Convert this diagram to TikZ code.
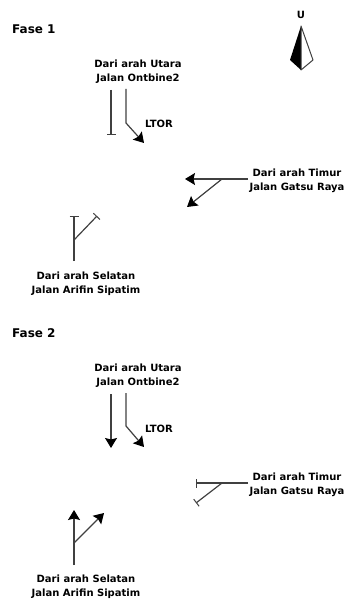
\documentclass[tikz,border=0pt]{standalone}
\usepackage{fontspec}
\setmainfont{DejaVu Sans}
\usetikzlibrary{arrows.meta}

\begin{document}
\begin{tikzpicture}[x=1pt, y=-1pt,    % same units as the image
    faselabel/.style={font=\bfseries\fontsize{12}{14}\selectfont, inner sep=0pt},
    ltorlabel/.style={font=\bfseries\fontsize{10}{12}\selectfont, inner sep=0pt},
    arahlabel/.style={
        align=center,
        inner sep=0pt,
        font=\bfseries\fontsize{10}{14}\selectfont
    },
    lane/.style={draw=black!75, line width=1.2pt, line join=round},
    go/.style={lane, -{Stealth[length=10pt, width=12pt, inset=1.5pt, color=black]}},
    stopped/.style={lane, -{Bar[width=9pt, line width=1pt]}}
]
    \useasboundingbox (0,0) rectangle (347,601);

    % 1. Compass
    \node [inner sep=0pt, font=\bfseries\fontsize{10}{12}\selectfont] (Utara) at (301,15) {U};
    \coordinate (KompasTop) at (301,26);
    \coordinate (KompasLeft) at (290,60);
    \coordinate (KompasBottom) at (301,70);
    \coordinate (KompasRight) at (313,60);
    \fill [black] (KompasTop) -- (KompasLeft) -- (KompasBottom) -- cycle;
    \draw [black!75, line width=1pt, line join=round] (KompasTop) -- (KompasRight) -- (KompasBottom) -- cycle;

    % 2. Fase 1
    \node [faselabel, anchor=west] (Fase1) at (12,29) {Fase 1};
    \node [ltorlabel] (Ltor1) at (159,124) {LTOR};
    \node [arahlabel] (Utara1) at (138,72) {Dari arah Utara\\Jalan Ontbine2};
    \node [arahlabel] (Timur1) at (297,181) {Dari arah Timur\\Jalan Gatsu Raya};
    \node [arahlabel] (Selatan1) at (86,284) {Dari arah Selatan\\Jalan Arifin Sipatim};

    \coordinate (U1Lurus) at (111,90);
    \coordinate (U1Stop) at (111,135);
    \coordinate (U1Kiri) at (126,89);
    \coordinate (U1Belok) at (126,123);
    \coordinate (U1Ujung) at (144,143);
    \draw [stopped] (U1Lurus) -- (U1Stop);
    \draw [go] (U1Kiri) -- (U1Belok) -- (U1Ujung);

    \coordinate (T1Awal) at (248,179);
    \coordinate (T1Cabang) at (222,179);
    \coordinate (T1Lurus) at (185,179);
    \coordinate (T1Kiri) at (187,207);
    \draw [go] (T1Awal) -- (T1Lurus);
    \draw [go] (T1Cabang) -- (T1Kiri);

    \coordinate (S1Awal) at (74,261);
    \coordinate (S1Cabang) at (74,240);
    \coordinate (S1Lurus) at (74,216);
    \coordinate (S1Kanan) at (97,216);
    \draw [stopped] (S1Awal) -- (S1Lurus);
    \draw [stopped] (S1Cabang) -- (S1Kanan);

    % 3. Fase 2
    \node [faselabel, anchor=west] (Fase2) at (12,333) {Fase 2};
    \node [ltorlabel] (Ltor2) at (159,429) {LTOR};
    \node [arahlabel] (Utara2) at (138,376) {Dari arah Utara\\Jalan Ontbine2};
    \node [arahlabel] (Timur2) at (297,485) {Dari arah Timur\\Jalan Gatsu Raya};
    \node [arahlabel] (Selatan2) at (86,587) {Dari arah Selatan\\Jalan Arifin Sipatim};

    \coordinate (U2Lurus) at (111,394);
    \coordinate (U2Ujung) at (111,448);
    \coordinate (U2Kiri) at (126,393);
    \coordinate (U2Belok) at (126,426);
    \coordinate (U2Akhir) at (144,447);
    \draw [go] (U2Lurus) -- (U2Ujung);
    \draw [go] (U2Kiri) -- (U2Belok) -- (U2Akhir);

    \coordinate (T2Awal) at (248,483);
    \coordinate (T2Cabang) at (222,483);
    \coordinate (T2Lurus) at (196,483);
    \coordinate (T2Kiri) at (196,503);
    \draw [stopped] (T2Awal) -- (T2Lurus);
    \draw [stopped] (T2Cabang) -- (T2Kiri);

    \coordinate (S2Awal) at (74,565);
    \coordinate (S2Cabang) at (74,543);
    \coordinate (S2Lurus) at (74,510);
    \coordinate (S2Kanan) at (104,513);
    \draw [go] (S2Awal) -- (S2Lurus);
    \draw [go] (S2Cabang) -- (S2Kanan);

\end{tikzpicture}
\end{document}
